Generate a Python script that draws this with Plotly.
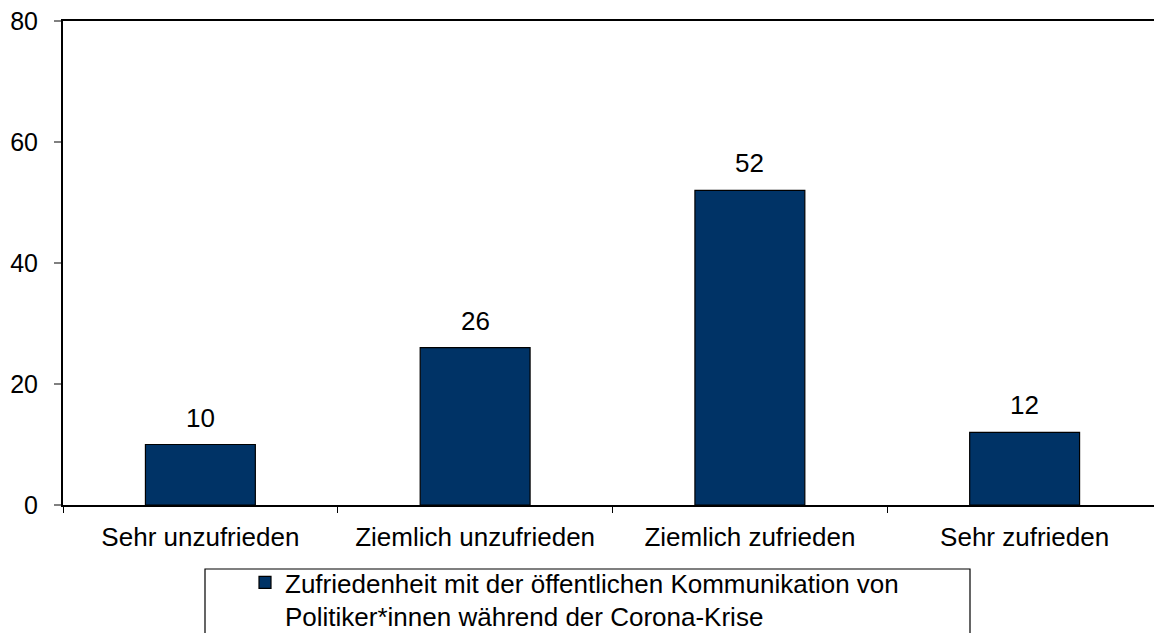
import plotly.graph_objects as go

categories = ["Sehr unzufrieden", "Ziemlich unzufrieden", "Ziemlich zufrieden", "Sehr zufrieden"]
values = [10, 26, 52, 12]
series_name = "Zufriedenheit mit der öffentlichen Kommunikation von<br>Politiker*innen während der Corona-Krise"
y_ticks = [0, 20, 40, 60, 80]

FONT = "Liberation Sans, Arial, sans-serif"

# page has an 8px body margin, so the figure is sized to fit the 1162x633 window
W, H = 1154, 625

fig = go.Figure()
fig.add_trace(go.Bar(
    x=categories, y=values, name=series_name, width=0.4,
    marker=dict(color="#003366", line=dict(color="#000000", width=1.2)),
    showlegend=True,
))

for c, v in zip(categories, values):
    fig.add_annotation(x=c, y=v, text=str(v), showarrow=False, yanchor="bottom",
                       yshift=10, font=dict(size=26, color="#000000", family=FONT))

fig.update_layout(
    width=W, height=H,
    margin=dict(l=55, r=0, t=13, b=128, autoexpand=False),
    paper_bgcolor="white", plot_bgcolor="white",
    font=dict(family=FONT, size=26, color="#000000"),
    showlegend=True,
    legend=dict(x=(245 - 63) / 1099, y=1 - 551 / H, xanchor="left", yanchor="top",
                yref="container", valign="top",
                bgcolor="rgba(0,0,0,0)", borderwidth=0,
                font=dict(size=26, family=FONT, color="#000000"),
                tracegroupgap=0),
    bargap=0.6,
)
# legend frame
fig.add_shape(type="rect", xref="paper", yref="paper",
              x0=(205 - 63) / 1099, x1=(970 - 63) / 1099,
              y0=-0.5, y1=-(569 - 505) / 484,
              line=dict(color="#000000", width=1.2), fillcolor="rgba(0,0,0,0)")

fig.update_xaxes(
    type="category", range=[-0.5, 3.5], automargin=False,
    showline=True, linecolor="#000000", linewidth=2, mirror=True,
    ticks="outside", tickson="boundaries", ticklen=6, tickcolor="#000000", tickwidth=1,
    showgrid=False, ticklabelstandoff=8, ticklabeloverflow="allow",
    tickfont=dict(size=26, family=FONT, color="#000000"),
)
fig.update_yaxes(
    range=[0, 80], tickvals=y_ticks, ticktext=[str(t) for t in y_ticks], automargin=False,
    showline=True, linecolor="#000000", linewidth=2,
    ticks="outside", ticklen=7, tickcolor="#808080", tickwidth=1.5,
    showgrid=False, zeroline=False, ticklabelstandoff=11, ticklabeloverflow="allow",
    tickfont=dict(size=25, family=FONT, color="#000000"),
)

fig.write_html("out.html")
